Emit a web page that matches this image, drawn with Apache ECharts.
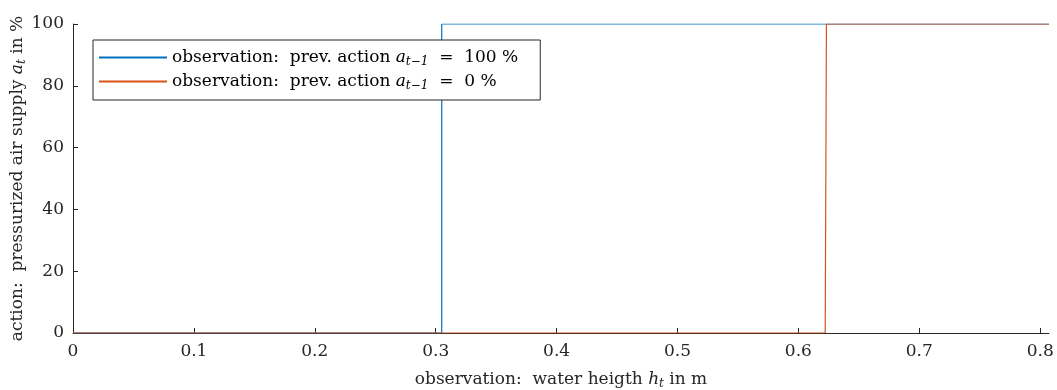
<!DOCTYPE html>
<html><head><meta charset="utf-8">
<script src="https://cdn.jsdelivr.net/npm/echarts@6/dist/echarts.min.js"></script>
<style>html,body{margin:0;padding:0;background:#fff}#c{width:1057px;height:390px}</style>
</head><body><div id="c"></div>
<script>
const blueX = [0, 0.305, 0.305, 0.8073];
const blueY = [0, 0, 100, 100];
const orangeX = [0, 0.6222, 0.6232, 0.8073];
const orangeY = [0, 0, 100, 100];
const seriesNames = ['observation:  prev. action {i|a}{s|t−1}  =  100 %', 'observation:  prev. action {i|a}{s|t−1}  =  0 %'];
const xTicks = [0, 0.1, 0.2, 0.3, 0.4, 0.5, 0.6, 0.7, 0.8];
const yTicks = [0, 20, 40, 60, 80, 100];

const F = 'DejaVu Serif';
const col = '#262626';
const zip = (a, b) => a.map((v, i) => [v, b[i]]);
const rich = (c) => ({
  i: {fontFamily: F, fontStyle: 'italic', fontSize: 17, color: c},
  s: {fontFamily: F, fontStyle: 'italic', fontSize: 12, color: c, padding: [9, 0, 0, 0]}
});
const chart = echarts.init(document.getElementById('c'));
chart.setOption({
  animation: false,
  grid: {left: 73, right: 8, top: 24, bottom: 57, containLabel: false, outerBoundsMode: 'none'},
  legend: {
    left: 93, top: 40, orient: 'vertical',
    backgroundColor: '#fff', borderColor: '#262626', borderWidth: 1, borderRadius: 0,
    padding: [9, 22, 8, 6], itemGap: 5, itemWidth: 68, itemHeight: 2,
    icon: 'rect',
    textStyle: {fontFamily: F, fontSize: 17, color: '#000', rich: rich('#000')}
  },
  xAxis: {
    type: 'value', min: 0, max: 0.8073, interval: 0.1,
    name: 'observation:  water heigth {i|h}{s|t} in m', nameLocation: 'middle', nameGap: 36,
    nameTextStyle: {fontFamily: F, fontSize: 17, color: col, rich: rich(col)},
    axisLine: {show: true, lineStyle: {color: col, width: 1}},
    axisTick: {show: true, inside: true, length: 5, lineStyle: {color: col}},
    axisLabel: {fontFamily: F, fontSize: 17, color: col, margin: 10,
      formatter: v => xTicks.includes(Math.round(v*10)/10) ? String(Math.round(v*10)/10) : '', showMaxLabel: false},
    splitLine: {show: false}
  },
  yAxis: {
    type: 'value', min: 0, max: 100, interval: 20,
    name: 'action:  pressurized air supply {i|a}{s|t} in %', nameLocation: 'middle', nameGap: 45,
    nameMoveOverlap: false,
    nameTextStyle: {fontFamily: F, fontSize: 17, color: col, rich: rich(col)},
    axisLine: {show: true, lineStyle: {color: col, width: 1}},
    axisTick: {show: true, inside: true, length: 5, lineStyle: {color: col}},
    axisLabel: {fontFamily: F, fontSize: 17, color: col, margin: 9,
      formatter: v => yTicks.includes(v) ? String(v) : ''},
    splitLine: {show: false}
  },
  series: [
    {name: seriesNames[0], type: 'line', data: zip(blueX, blueY), showSymbol: false, symbol: 'none',
     lineStyle: {color: '#0072BD', width: 1.2}, itemStyle: {color: '#0072BD'}},
    {name: seriesNames[1], type: 'line', data: zip(orangeX, orangeY), showSymbol: false, symbol: 'none',
     lineStyle: {color: '#D95319', width: 1.2}, itemStyle: {color: '#D95319'}}
  ]
});
</script></body></html>
